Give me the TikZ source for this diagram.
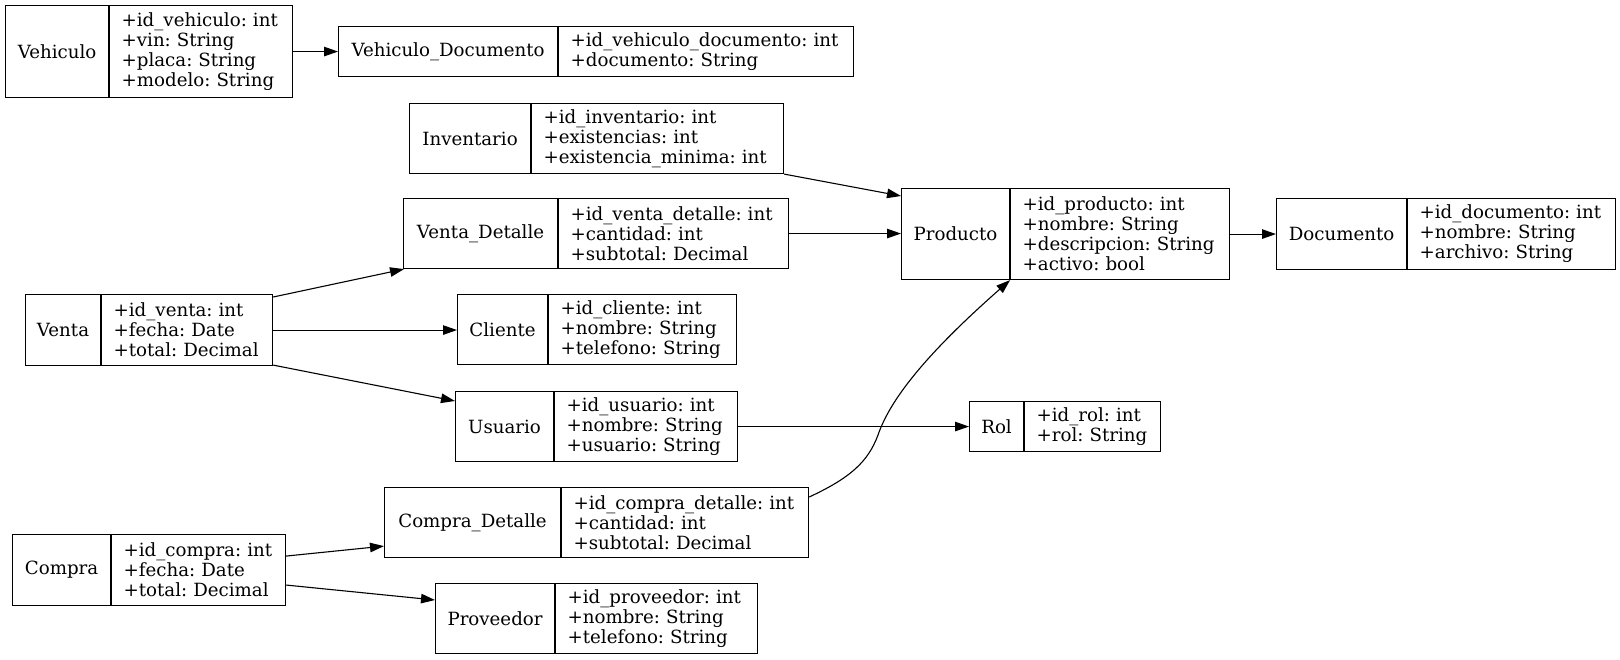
\documentclass[tikz,border=0pt]{standalone}
\usepackage{fontspec}
\setmainfont{DejaVu Serif}
\usetikzlibrary{arrows.meta}
\newcommand\fieldfont{\fontsize{18.2}{20}\selectfont\hyphenpenalty 10000\relax\exhyphenpenalty 10000\relax}

\begin{document}
\begin{tikzpicture}[x=1pt,y=-1pt,
    field/.style={draw, line width=1.1pt, rectangle, inner ysep=0pt, anchor=north west, font=\fieldfont},
    namefield/.style={field, inner xsep=0pt, align=center},
    attrfield/.style={field, inner xsep=12pt, align=left},
    rel/.style={line width=1.1pt, -{Triangle[length=14pt,width=9.5pt]}}]
    \useasboundingbox (0,0) rectangle (1620,659);

    % Vehiculo and its documents
    \node[namefield, minimum width=103pt, minimum height=92pt] (vehiculo) at (5,5) {Vehiculo};
    \node[attrfield, text width=159pt, minimum height=92pt] (vehiculoAttr) at (vehiculo.north east)
        {+id\_vehiculo:~int\\+vin:~String\\+placa:~String\\+modelo:~String};
    \node[namefield, minimum width=219pt, minimum height=50pt] (vehdoc) at (338,26) {Vehiculo\_Documento};
    \node[attrfield, text width=271pt, minimum height=50pt] (vehdocAttr) at (vehdoc.north east)
        {+id\_vehiculo\_documento:~int\\+documento:~String};

    % Inventario
    \node[namefield, minimum width=121pt, minimum height=70pt] (inventario) at (409,103) {Inventario};
    \node[attrfield, text width=228pt, minimum height=70pt] (inventarioAttr) at (inventario.north east)
        {+id\_inventario:~int\\+existencias:~int\\+existencia\_minima:~int};

    % Venta_Detalle
    \node[namefield, minimum width=154pt, minimum height=70pt] (ventadet) at (403,198) {Venta\_Detalle};
    \node[attrfield, text width=206pt, minimum height=70pt] (ventadetAttr) at (ventadet.north east)
        {+id\_venta\_detalle:~int\\+cantidad:~int\\+subtotal:~Decimal};

    % Producto and Documento
    \node[namefield, minimum width=108pt, minimum height=91pt] (producto) at (901,188) {Producto};
    \node[attrfield, text width=195pt, minimum height=91pt] (productoAttr) at (producto.north east)
        {+id\_producto:~int\\+nombre:~String\\+descripcion:~String\\+activo:~bool};
    \node[namefield, minimum width=130pt, minimum height=71pt] (documento) at (1276,198) {Documento};
    \node[attrfield, text width=184pt, minimum height=71pt] (documentoAttr) at (documento.north east)
        {+id\_documento:~int\\+nombre:~String\\+archivo:~String};

    % Venta, Cliente, Usuario, Rol
    \node[namefield, minimum width=75pt, minimum height=71pt] (venta) at (25,294) {Venta};
    \node[attrfield, text width=147pt, minimum height=71pt] (ventaAttr) at (venta.north east)
        {+id\_venta:~int\\+fecha:~Date\\+total:~Decimal};
    \node[namefield, minimum width=90pt, minimum height=70pt] (cliente) at (457,294) {Cliente};
    \node[attrfield, text width=164pt, minimum height=70pt] (clienteAttr) at (cliente.north east)
        {+id\_cliente:~int\\+nombre:~String\\+telefono:~String};
    \node[namefield, minimum width=98pt, minimum height=70pt] (usuario) at (455,391) {Usuario};
    \node[attrfield, text width=159pt, minimum height=70pt] (usuarioAttr) at (usuario.north east)
        {+id\_usuario:~int\\+nombre:~String\\+usuario:~String};
    \node[namefield, minimum width=54pt, minimum height=50pt] (rol) at (969,401) {Rol};
    \node[attrfield, text width=112pt, minimum height=50pt] (rolAttr) at (rol.north east)
        {+id\_rol:~int\\+rol:~String};

    % Compra, Compra_Detalle, Proveedor
    \node[namefield, minimum width=176pt, minimum height=70pt] (compradet) at (384,487) {Compra\_Detalle};
    \node[attrfield, text width=223pt, minimum height=70pt] (compradetAttr) at (compradet.north east)
        {+id\_compra\_detalle:~int\\+cantidad:~int\\+subtotal:~Decimal};
    \node[namefield, minimum width=98pt, minimum height=71pt] (compra) at (12,534) {Compra};
    \node[attrfield, text width=150pt, minimum height=71pt] (compraAttr) at (compra.north east)
        {+id\_compra:~int\\+fecha:~Date\\+total:~Decimal};
    \node[namefield, minimum width=119pt, minimum height=70pt] (proveedor) at (435,583) {Proveedor};
    \node[attrfield, text width=178pt, minimum height=70pt] (proveedorAttr) at (proveedor.north east)
        {+id\_proveedor:~int\\+nombre:~String\\+telefono:~String};

    % Relations
    \draw[rel] (vehiculoAttr.east) -- (vehdoc.west);
    \draw[rel] (inventarioAttr.south east) -- ([yshift=-8pt]producto.north west);
    \draw[rel] (ventadetAttr.east) -- (ventadetAttr.east -| producto.west);
    \draw[rel] (productoAttr.east) -- (documento.west);
    \draw[rel] ([yshift=-3pt]ventaAttr.north east) -- ([xshift=1pt]ventadet.south west);
    \draw[rel] (ventaAttr.east) -- (ventaAttr.east -| cliente.west);
    \draw[rel] ([yshift=1pt]ventaAttr.south east) -- ([yshift=-10pt]usuario.north west);
    \draw[rel] (usuarioAttr.east) -- (rol.west);
    \draw[rel] ([yshift=-10pt]compradetAttr.north east) .. controls (850,478) and (868,462) .. (878,435)
        .. controls (890,400) and (925,355) .. (producto.south east);
    \draw[rel] ([yshift=14pt]compraAttr.east) -- ([yshift=12pt]compradet.south west);
    \draw[rel] ([yshift=-15pt]compraAttr.east) -- ([yshift=-17pt]proveedor.north west);
\end{tikzpicture}
\end{document}
